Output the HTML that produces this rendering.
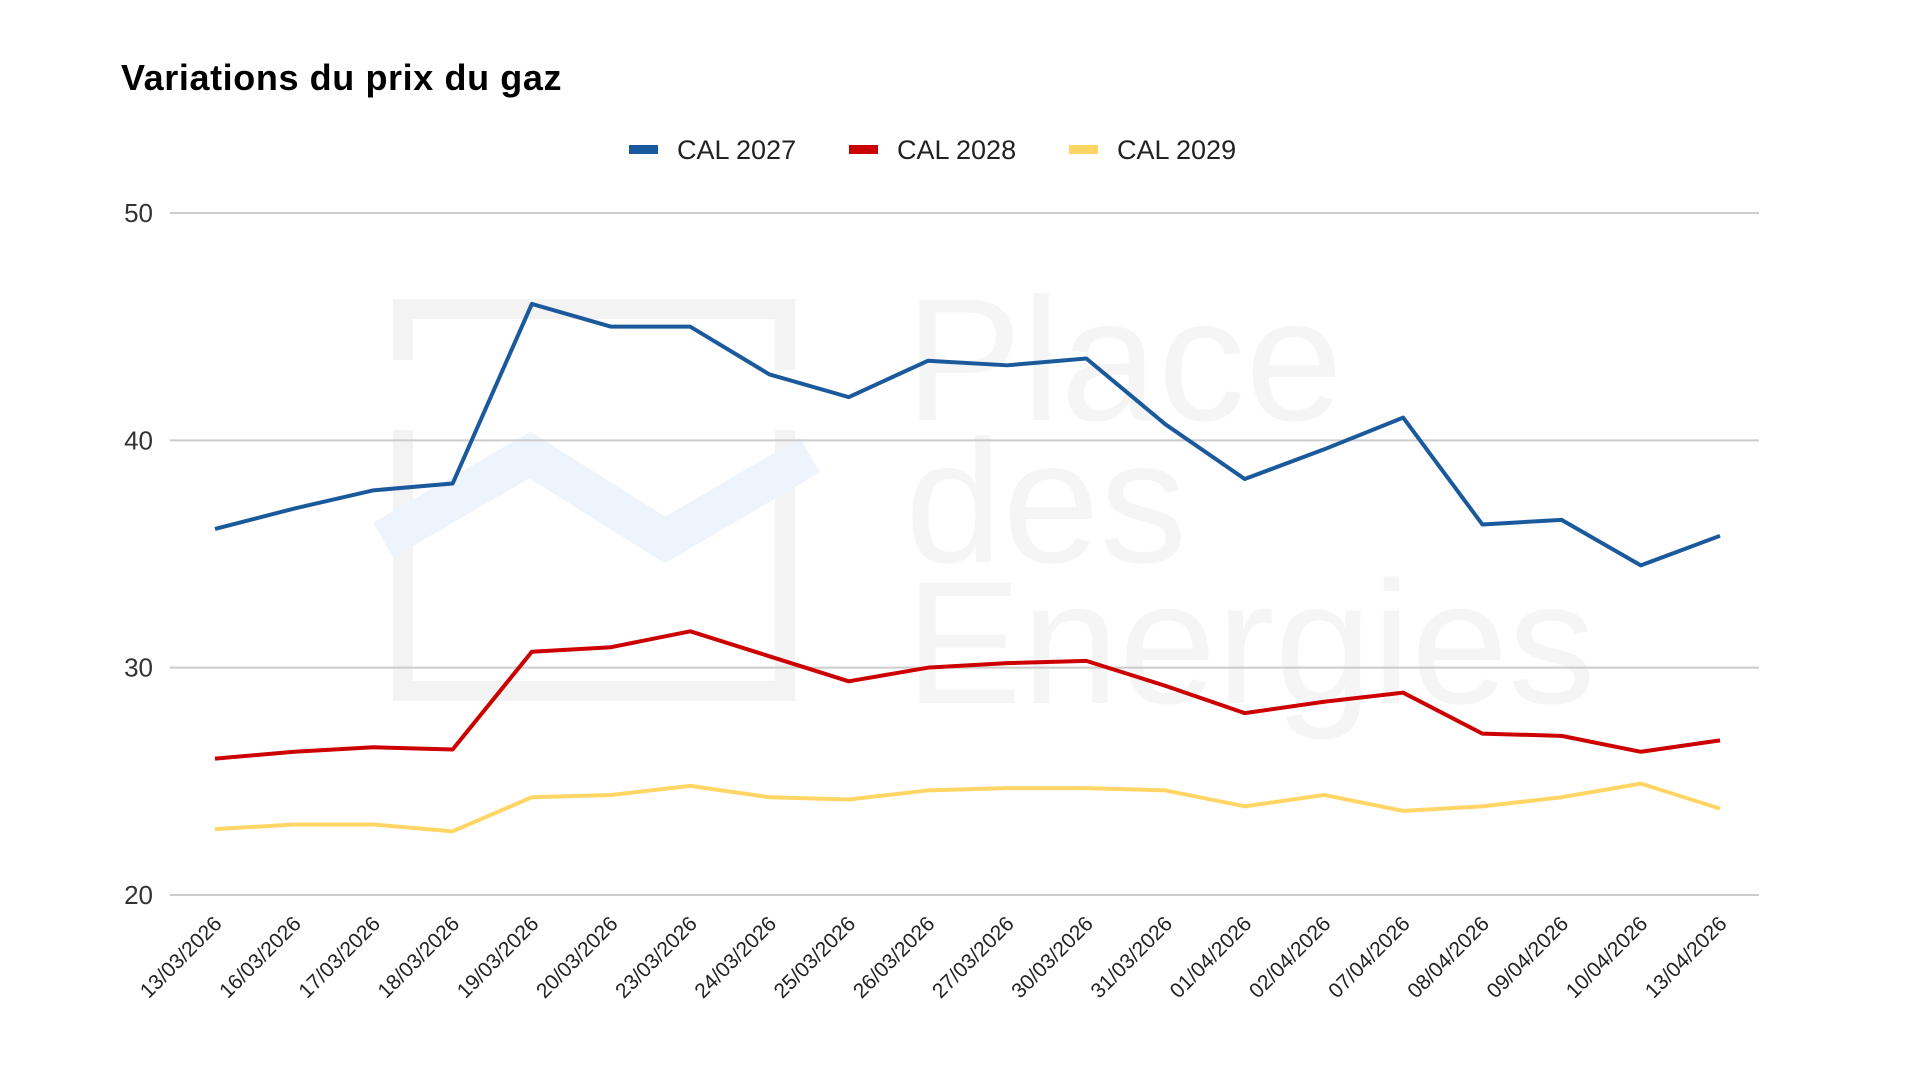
<!DOCTYPE html>
<html><head><meta charset="utf-8">
<style>
body{margin:0;background:#fff;width:1920px;height:1080px;overflow:hidden;font-family:"Liberation Sans",Arial,sans-serif;}
svg{display:block}
</style></head>
<body>
<svg id="chart" width="1920" height="1080">
  <g>
    <path d="M403,430 V691 H785 V430 M785,370 V309 H403 V360" fill="none" stroke="#f3f3f3" stroke-width="20"/>
    <polyline points="383,540 530,455 665,540 810,455" fill="none" stroke="#eef4fc" stroke-width="40"/>
    <text x="905" y="420" font-size="175" fill="#f5f5f5">Place</text>
    <text x="905" y="562" font-size="175" fill="#f5f5f5">des</text>
    <text x="905" y="703" font-size="175" fill="#f5f5f5">Energies</text>
  </g>
  <text x="121" y="90" font-size="36" font-weight="bold" letter-spacing="0.6" fill="#000">Variations du prix du gaz</text>
  <g id="legend"></g>
  <g id="grid"></g>
  <g id="yaxis"></g>
  <g id="xaxis"></g>
  <g id="series"></g>
</svg>
<script>
const categories = ["13/03/2026","16/03/2026","17/03/2026","18/03/2026","19/03/2026","20/03/2026","23/03/2026","24/03/2026","25/03/2026","26/03/2026","27/03/2026","30/03/2026","31/03/2026","01/04/2026","02/04/2026","07/04/2026","08/04/2026","09/04/2026","10/04/2026","13/04/2026"];
const cal2027 = [36.1,37.0,37.8,38.1,46.0,45.0,45.0,42.9,41.9,43.5,43.3,43.6,40.7,38.3,39.6,41.0,36.3,36.5,34.5,35.8];
const cal2028 = [26.0,26.3,26.5,26.4,30.7,30.9,31.6,30.5,29.4,30.0,30.2,30.3,29.2,28.0,28.5,28.9,27.1,27.0,26.3,26.8];
const cal2029 = [22.9,23.1,23.1,22.8,24.3,24.4,24.8,24.3,24.2,24.6,24.7,24.7,24.6,23.9,24.4,23.7,23.9,24.3,24.9,23.8];
const seriesNames = ["CAL 2027","CAL 2028","CAL 2029"];
const yTicks = [20,30,40,50];

const NS="http://www.w3.org/2000/svg";
const colors=["#1a5a9c","#cc0000","#ffd666"];
const X0=215, X1=1720, Y50=213, Y20=895, GL=170, GR=1759;
function xs(i){return X0+(X1-X0)*i/(categories.length-1);}
function ys(v){return Y20+(v-20)*(Y50-Y20)/30;}
function mk(tag,attrs,parent){const e=document.createElementNS(NS,tag);for(const k in attrs)e.setAttribute(k,attrs[k]);parent.appendChild(e);return e;}

const grid=document.getElementById('grid'),yax=document.getElementById('yaxis'),xax=document.getElementById('xaxis'),ser=document.getElementById('series'),leg=document.getElementById('legend');
yTicks.forEach(t=>{
  const l=mk('line',{x1:GL,x2:GR,y1:ys(t),y2:ys(t),stroke:"#cccccc","stroke-width":2},grid);
  
  
  const tx=mk('text',{x:153,y:ys(t)+9,"font-size":26,fill:"#333","text-anchor":"end"},yax);
  tx.textContent=t;
  
  
});
categories.forEach((c,i)=>{
  const x=xs(i)+8,y=ys(20)+30;
  const tx=mk('text',{x:x,y:y,"font-size":21,fill:"#222","text-anchor":"end",transform:`rotate(-45 ${x} ${y})`},xax);
  tx.textContent=c;
  
  
});
[cal2027,cal2028,cal2029].forEach((arr,si)=>{
  const p=mk('polyline',{points:arr.map((v,i)=>xs(i)+","+ys(v)).join(" "),fill:"none",stroke:colors[si],"stroke-width":4,"stroke-linejoin":"round"},ser);
  
  
});
const legX=[629,849,1069];
seriesNames.forEach((n,si)=>{
  const g=mk('g',{},leg);
  
  
  mk('rect',{x:legX[si],y:145,width:29,height:9,fill:colors[si]},g);
  const t=mk('text',{x:legX[si]+48,y:159,"font-size":27,fill:"#222"},g);
  t.textContent=n;
});
</script>
</body></html>
